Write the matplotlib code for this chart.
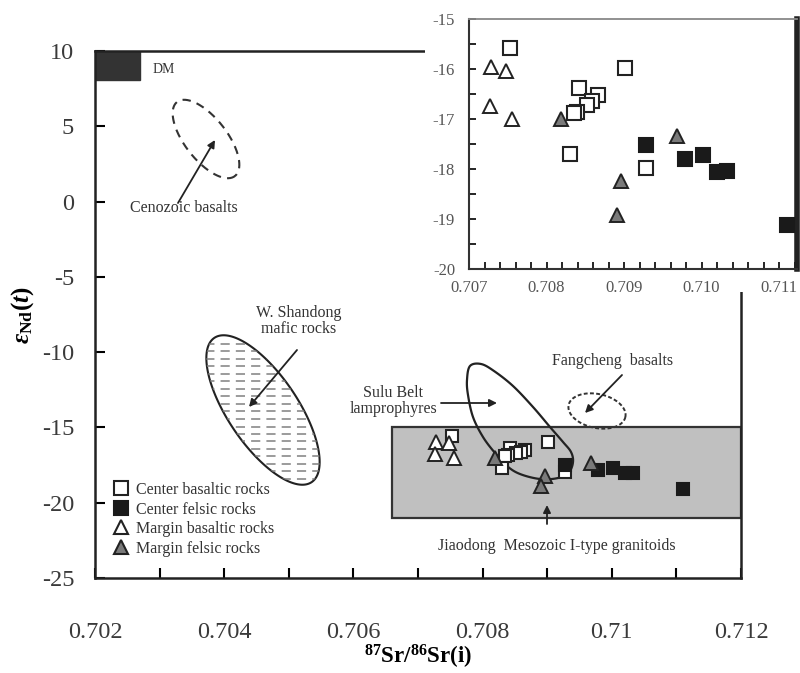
import numpy as np
import matplotlib
matplotlib.use('Agg')
import matplotlib.pyplot as plt
from matplotlib.patches import Rectangle, Polygon
from matplotlib.ticker import MultipleLocator, FuncFormatter
from matplotlib.lines import Line2D

plt.rcParams['font.family'] = ['Liberation Serif', 'DejaVu Serif']
plt.rcParams['mathtext.fontset'] = 'custom'
plt.rcParams['mathtext.rm'] = 'Liberation Serif'
plt.rcParams['mathtext.bf'] = 'Liberation Serif:bold'
plt.rcParams['mathtext.it'] = 'Liberation Serif:italic:bold'

# ---------------- data ----------------
center_basaltic_sr = [0.70753, 0.70901, 0.70842, 0.70866, 0.70859, 0.70852,
                      0.70839, 0.70835, 0.70830, 0.70928]
center_basaltic_nd = [-15.57, -15.97, -16.37, -16.52, -16.63, -16.72,
                      -16.85, -16.87, -17.69, -17.97]
center_felsic_sr = [0.70928, 0.70979, 0.71002, 0.71020, 0.71033, 0.71110]
center_felsic_nd = [-17.52, -17.81, -17.72, -18.05, -18.03, -19.12]
margin_basaltic_sr = [0.70728, 0.70748, 0.70727, 0.70755]
margin_basaltic_nd = [-15.95, -16.03, -16.74, -17.00]
margin_felsic_sr = [0.70819, 0.70896, 0.70891, 0.70968]
margin_felsic_nd = [-17.00, -18.24, -18.92, -17.34]

series_labels = ['Center basaltic rocks', 'Center felsic rocks',
                 'Margin basaltic rocks', 'Margin felsic rocks']

dm_box_sr = [0.702, 0.7027]
dm_box_nd = [8.1, 10.0]
jiaodong_box_sr = [0.7066, 0.712]
jiaodong_box_nd = [-21.0, -15.0]

main_xlim = (0.702, 0.712)
main_ylim = (-25, 10)
inset_xlim = (0.707, 0.71123)
inset_ylim = (-20, -15)

# ---------------- figure ----------------
W, H = 800, 673
fig = plt.figure(figsize=(W / 100, H / 100), dpi=100)
fig.patch.set_facecolor('white')

L, R, T, B = 95, 741, 51, 578
ax = fig.add_axes([L / W, 1 - B / H, (R - L) / W, (B - T) / H])
ax.set_xlim(*main_xlim)
ax.set_ylim(*main_ylim)

TXT = '#333333'


def P(px, py):
    """reference pixel -> data coords of the main axes"""
    return ax.transData.inverted().transform((px, H - py))


def Pa(pts):
    return np.array([P(x, y) for x, y in pts])


def ellipse_px(cx, cy, a, b, ang, n=240):
    t = np.linspace(0, 2 * np.pi, n)
    A = np.deg2rad(ang)
    x = cx + a * np.cos(t) * np.cos(A) - b * np.sin(t) * np.sin(A)
    y = cy + a * np.cos(t) * np.sin(A) + b * np.sin(t) * np.cos(A)
    return list(zip(x, y))


def catmull(points, n=24):
    Pp = np.array(points, float)
    N = len(Pp)
    out = []
    for i in range(N):
        p0, p1, p2, p3 = Pp[i - 1], Pp[i], Pp[(i + 1) % N], Pp[(i + 2) % N]
        for t in np.linspace(0, 1, n, endpoint=False):
            out.append(0.5 * ((2 * p1) + (-p0 + p2) * t
                              + (2 * p0 - 5 * p1 + 4 * p2 - p3) * t ** 2
                              + (-p0 + 3 * p1 - 3 * p2 + p3) * t ** 3))
    return out


def arrow(tail, head):
    ax.annotate('', xy=P(*head), xytext=P(*tail),
                arrowprops=dict(arrowstyle='-|>', color='#222222', lw=1.3,
                                mutation_scale=11, shrinkA=0, shrinkB=0),
                zorder=6)


# regions
ax.add_patch(Rectangle((dm_box_sr[0], dm_box_nd[0]), dm_box_sr[1] - dm_box_sr[0],
                       dm_box_nd[1] - dm_box_nd[0], facecolor='#333333',
                       edgecolor='#333333', zorder=2))
ax.add_patch(Rectangle((jiaodong_box_sr[0], jiaodong_box_nd[0]),
                       jiaodong_box_sr[1] - jiaodong_box_sr[0],
                       jiaodong_box_nd[1] - jiaodong_box_nd[0],
                       facecolor='#c0c0c0', edgecolor='#333333', lw=1.6, zorder=1))

# Cenozoic basalts (dashed ellipse)
cen = Pa(ellipse_px(206, 139, 47, 21, 52))
ax.plot(cen[:, 0], cen[:, 1], color='#333333', lw=1.5, dashes=(4, 3), zorder=3)

# W. Shandong mafic rocks (outlined, dashed hatching)
ws_pts = Pa(ellipse_px(263, 410, 87, 35, 56))
ws_patch = Polygon(ws_pts, closed=True, facecolor='white', edgecolor='#222222',
                   lw=1.5, zorder=3)
ax.add_patch(ws_patch)
for yy in np.arange(344, 484, 7.5):
    a_, b_ = P(190, yy), P(340, yy)
    ln, = ax.plot([a_[0], b_[0]], [a_[1], b_[1]], color='#808080', lw=1.1,
                  dashes=(6, 4), zorder=3)
    ln.set_clip_path(ws_patch)

# Sulu Belt lamprophyres loop
sulu_ctrl = [(470, 366), (467, 380), (468, 395), (473, 417), (483, 437),
             (495, 453), (507, 466), (520, 474), (540, 479), (558, 478),
             (569, 472), (573, 462), (571, 452), (563, 442), (550, 427),
             (533, 407), (513, 386), (494, 371), (481, 364)]
su = Pa(catmull(sulu_ctrl))
ax.add_patch(Polygon(su, closed=True, facecolor='none', edgecolor='#222222',
                     lw=1.6, zorder=4))

# Fangcheng basalts (dotted ellipse)
fc = Pa(ellipse_px(597, 411, 29, 17, 12))
ax.plot(fc[:, 0], fc[:, 1], color='#333333', lw=1.4, dashes=(2, 1.2), zorder=3)

# arrows
arrow((178, 203), (215, 140))
arrow((297, 350), (249, 407))
arrow((441, 403), (497, 403))
arrow((622, 375), (585, 413))
arrow((547, 524), (547, 505))

# labels
fs = 11.5
ax.text(*P(164, 70), 'DM', ha='center', va='center', fontsize=10, color=TXT)
ax.text(*P(184, 208), 'Cenozoic basalts', ha='center', va='center', fontsize=fs, color=TXT)
ax.text(*P(299, 321), 'W. Shandong\nmafic rocks', ha='center', va='center',
        fontsize=fs, color=TXT, linespacing=1.05)
ax.text(*P(393, 401), 'Sulu Belt\nlamprophyres', ha='center', va='center',
        fontsize=fs, color=TXT, linespacing=1.05)
ax.text(*P(613, 361), 'Fangcheng  basalts', ha='center', va='center', fontsize=fs, color=TXT)
ax.text(*P(557, 546), 'Jiaodong  Mesozoic I-type granitoids', ha='center', va='center',
        fontsize=fs, color=TXT)


def scatter_all(a, ms_sq, ms_tri, z=5):
    a.plot(center_basaltic_sr, center_basaltic_nd, ls='none', marker='s', ms=ms_sq,
           mfc='white', mec='#222222', mew=1.5, zorder=z, label=series_labels[0])
    a.plot(center_felsic_sr, center_felsic_nd, ls='none', marker='s', ms=ms_sq,
           mfc='#1a1a1a', mec='#1a1a1a', mew=1.5, zorder=z, label=series_labels[1])
    a.plot(margin_basaltic_sr, margin_basaltic_nd, ls='none', marker='^', ms=ms_tri,
           mfc='white', mec='#222222', mew=1.4, zorder=z, label=series_labels[2])
    a.plot(margin_felsic_sr, margin_felsic_nd, ls='none', marker='^', ms=ms_tri,
           mfc='#7a7a7a', mec='#222222', mew=1.4, zorder=z, label=series_labels[3])


scatter_all(ax, 8.5, 9.5)

# axes styling
for s in ['left', 'bottom', 'top', 'right']:
    ax.spines[s].set_linewidth(1.8)
    ax.spines[s].set_color('#222222')
ax.xaxis.set_major_locator(MultipleLocator(0.002))
ax.xaxis.set_minor_locator(MultipleLocator(0.001))
ax.yaxis.set_major_locator(MultipleLocator(5))
ax.xaxis.set_major_formatter(FuncFormatter(lambda v, p: f'{v:.3f}'.rstrip('0')))
ax.yaxis.set_major_formatter(FuncFormatter(lambda v, p: f'{v:g}'))
ax.tick_params(axis='x', which='both', direction='in', length=7, width=1.5,
               pad=32, labelsize=17.5, labelcolor='#3a3a3a', top=False)
ax.tick_params(axis='y', which='both', direction='in', length=7, width=1.5,
               pad=15, labelsize=17.5, labelcolor='#3a3a3a', right=False)

ax.set_xlabel(r'$^{\mathbf{87}}\mathbf{Sr/}^{\mathbf{86}}\mathbf{Sr(i)}$', fontsize=16.5)
ax.xaxis.set_label_coords(0.5, (B - 657) / (B - T))
ax.xaxis.label.set_va('center')
ax.set_ylabel(r'$\mathit{\varepsilon}_{\mathbf{Nd}}\mathbf{(}\mathit{t}\mathbf{)}$', fontsize=18)
ax.yaxis.set_label_coords((23 - L) / (R - L), (B - 315) / (B - T))
ax.yaxis.label.set_va('center')

leg_handles = [
    Line2D([], [], ls='none', marker='s', ms=10, mfc='white', mec='#222222', mew=1.5),
    Line2D([], [], ls='none', marker='s', ms=10, mfc='#1a1a1a', mec='#1a1a1a', mew=1.5),
    Line2D([], [], ls='none', marker='^', ms=10.5, mfc='white', mec='#222222', mew=1.5),
    Line2D([], [], ls='none', marker='^', ms=10.5, mfc='#7a7a7a', mec='#222222', mew=1.5),
]
leg = ax.legend(leg_handles, series_labels, loc='upper left',
                bbox_to_anchor=((114 - L) / (R - L), (B - 482) / (B - T)),
                frameon=False, fontsize=fs, handlelength=0.9, handletextpad=0.5,
                labelspacing=0.22, borderpad=0, borderaxespad=0)
for t in leg.get_texts():
    t.set_color(TXT)

# white box behind inset
fig.add_artist(Rectangle((425 / W, 1 - 292 / H), (W - 425) / W, 292 / H,
                         transform=fig.transFigure, facecolor='white',
                         edgecolor='none', zorder=2))

# ---------------- inset ----------------
iL, iR, iT, iB = 469, 797, 19, 269
ax2 = fig.add_axes([iL / W, 1 - iB / H, (iR - iL) / W, (iB - iT) / H], zorder=3)
ax2.set_xlim(*inset_xlim)
ax2.set_ylim(*inset_ylim)
scatter_all(ax2, 10, 10.5)
ax2.xaxis.set_major_locator(MultipleLocator(0.001))
ax2.xaxis.set_minor_locator(MultipleLocator(0.0002))
ax2.yaxis.set_major_locator(MultipleLocator(1))
ax2.yaxis.set_minor_locator(MultipleLocator(0.5))
ax2.xaxis.set_major_formatter(FuncFormatter(lambda v, p: f'{v:.3f}'))
ax2.yaxis.set_major_formatter(FuncFormatter(lambda v, p: f'{v:g}'))
ax2.tick_params(axis='both', which='both', direction='in', length=5, width=1.2,
                labelsize=12, labelcolor='#555555', top=False, right=False)
ax2.tick_params(axis='x', pad=8)
ax2.tick_params(axis='y', pad=10)
for s in ['left', 'bottom']:
    ax2.spines[s].set_linewidth(1.5)
    ax2.spines[s].set_color('#333333')
ax2.spines['top'].set_linewidth(1.3)
ax2.spines['top'].set_color('#888888')
ax2.spines['right'].set_linewidth(4)
ax2.spines['right'].set_color('#222222')

fig.savefig('out.png', dpi=100)
